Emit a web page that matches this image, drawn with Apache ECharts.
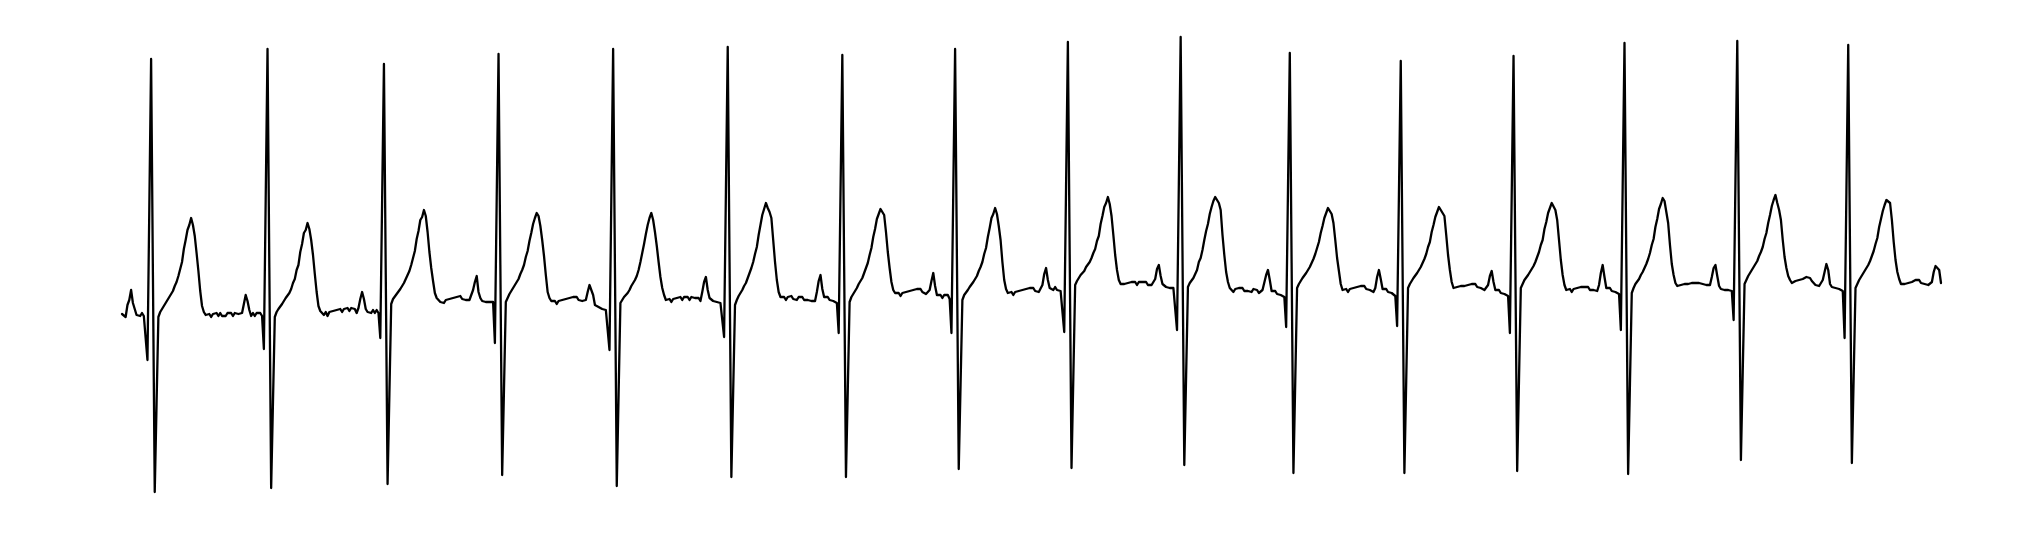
<!DOCTYPE html>
<html>
<head>
<meta charset="utf-8">
<title>ECG trace</title>
<script src="https://cdn.jsdelivr.net/npm/echarts@6/dist/echarts.min.js"></script>
<style>
  html, body { margin: 0; padding: 0; background: #ffffff; }
  #chart { width: 2035px; height: 538px; }
</style>
</head>
<body>
<div id="chart"></div>
<script>
// ECG amplitude samples (arbitrary units, ~10 uV), evenly spaced in time.
const beat01 = [-4,-6,-7,5,10,20,7,1,-5,-3,-6,-3,-6,-4,-50,100,251,35,-182,-94,-7,-2,0,4,6,10,12,16,19,24,28,34,41,48,61,70,80,85,92,85,74,57,39,19,4,-2,-5];
const beat02 = [-7,-4,-7,-4,-6,-3,-6,-3,-6,-4,-6,-3,-5,-3,-6,-3,-5,-4,-6,-3,6,15,9,0,-6,-3,-6,-3,-5,-3,-6,-39,111,261,42,-178,-92,-7,-2,1,2,6,7,12,13,17,21,27,31,40,45,58,66,77,80,87,81,70,55,36,18,4,-1,-3];
const beat03 = [-5,-2,-6,-2,-4,-1,-3,0,-2,1,-2,1,-1,2,-1,2,0,1,-3,2,11,18,11,1,-2,0,-3,0,-3,0,-3,-28,109,246,36,-174,-84,6,11,13,16,18,21,24,27,29,35,39,45,52,59,71,79,90,93,100,94,78,58,42,29,17,12,10];
const beat04 = [8,10,7,10,8,11,9,12,10,13,11,14,11,13,10,8,10,8,20,28,34,18,12,9,11,8,10,8,10,8,-33,112,256,45,-165,-79,8,12,16,19,21,25,28,31,36,40,45,53,59,69,77,86,92,97,94,84,70,54,35,18,12,9];
const beat05 = [7,9,6,9,7,10,8,11,9,12,10,13,11,13,10,12,9,7,10,18,25,27,15,5,7,3,5,1,3,0,-2,-40,110,261,42,-176,-85,7,10,13,15,17,20,24,27,30,34,40,48,57,66,76,85,92,97,90,78,64,48,33,22,15,10];
const beat06 = [8,11,8,11,9,12,10,13,10,13,11,13,10,13,11,12,10,12,9,18,28,33,20,12,12,9,11,8,10,7,5,-27,118,263,48,-167,-81,5,10,14,17,20,24,27,32,37,42,48,56,63,75,85,95,101,107,102,98,92,70,48,30,18,13];
const beat07 = [11,13,10,13,11,14,11,13,10,13,11,13,10,12,10,12,9,11,9,18,29,35,21,13,11,13,10,12,9,10,7,-23,116,255,44,-167,-80,8,13,16,19,22,26,29,32,37,42,47,55,62,73,81,91,96,101,102,95,78,58,42,28,20,17,15];
const beat08 = [17,14,17,15,18,16,19,17,20,18,21,19,21,18,19,16,18,20,29,37,24,15,13,15,12,15,13,15,11,-23,119,261,51,-159,-75,10,15,17,20,23,25,28,30,34,39,43,48,56,62,73,82,92,96,102,96,84,70,48,30,21,17,16];
const beat09 = [18,15,18,16,19,17,20,18,21,19,22,20,22,19,21,18,17,25,36,42,30,22,23,20,23,20,22,19,17,-22,123,268,55,-158,-67,25,29,32,35,37,39,43,44,48,52,57,61,69,74,86,94,103,107,113,106,94,75,55,40,30,26,24];
const beat10 = [26,24,27,25,28,26,28,25,28,26,28,26,28,25,27,25,24,31,41,45,34,26,25,23,25,22,24,22,20,-20,126,273,59,-155,-66,23,27,29,32,34,40,48,52,60,70,79,86,96,103,109,113,110,107,100,75,55,38,28,22,20];
const beat11 = [18,21,19,22,20,22,19,21,19,21,18,21,19,20,17,19,20,22,35,40,30,19,17,19,16,18,15,17,13,-17,120,257,47,-163,-71,22,26,29,32,34,37,40,43,47,51,56,62,68,77,84,92,97,102,100,96,87,70,52,39,26,20];
const beat12 = [18,21,18,21,19,22,20,23,21,24,22,24,21,23,20,21,18,22,33,40,31,21,19,21,18,20,17,18,14,-16,116,249,43,-163,-71,22,26,29,32,34,37,40,43,47,51,56,63,68,78,85,93,98,103,100,97,94,75,55,40,28,22];
const beat13 = [20,23,21,24,22,24,22,25,23,26,24,26,23,25,22,23,20,18,25,34,39,28,20,18,20,17,19,16,18,14,-23,115,254,46,-161,-70,22,26,30,32,35,38,41,44,48,53,58,65,70,81,88,97,102,107,105,100,90,70,50,35,25,20];
const beat14 = [18,21,18,21,19,22,20,23,21,23,21,23,20,22,20,21,19,25,37,45,33,22,20,22,19,21,18,19,16,-20,123,267,51,-164,-74,17,22,26,28,31,35,38,42,46,51,57,65,71,83,91,101,106,112,109,98,87,65,46,35,27,24];
const beat15 = [22,25,23,26,24,26,24,27,25,27,25,27,25,26,24,25,23,25,33,42,45,34,24,21,23,20,22,20,22,19,-10,129,269,59,-150,-62,26,30,34,37,39,43,46,49,54,58,63,71,77,87,95,104,110,115,107,100,90,70,53,42,34,30,27];
const beat16 = [26,29,27,30,28,31,30,33,31,32,29,28,25,27,24,26,30,38,46,40,26,23,25,22,24,21,22,19,-28,118,265,56,-153,-66,22,26,30,33,35,39,41,45,49,54,59,66,72,83,91,99,105,110,109,107,90,68,50,38,31,26];
const tailSegment = [24,26,24,27,25,28,27,30,28,30,27,29,26,28,25,26,28,38,44,46,40,27];

const amplitude = [].concat(beat01, beat02, beat03, beat04, beat05, beat06, beat07, beat08,
  beat09, beat10, beat11, beat12, beat13, beat14, beat15, beat16, tailSegment);
const seriesData = amplitude.map((v, i) => [i, v]);

const chart = echarts.init(document.getElementById('chart'), null, { renderer: 'canvas' });
chart.setOption({
  backgroundColor: '#ffffff',
  animation: false,
  grid: { left: 122, right: 94, top: 0, bottom: 0, containLabel: false },
  xAxis: {
    type: 'value', min: 0, max: amplitude.length - 1, show: false,
    splitLine: { show: false }
  },
  yAxis: {
    type: 'value', min: -228, max: 310, show: false,
    splitLine: { show: false }
  },
  series: [{
    type: 'line',
    data: seriesData,
    showSymbol: false,
    symbol: 'none',
    smooth: false,
    sampling: null,
    lineStyle: { color: '#000000', width: 2.3, join: 'round', cap: 'round' }
  }]
});
</script>
</body>
</html>
